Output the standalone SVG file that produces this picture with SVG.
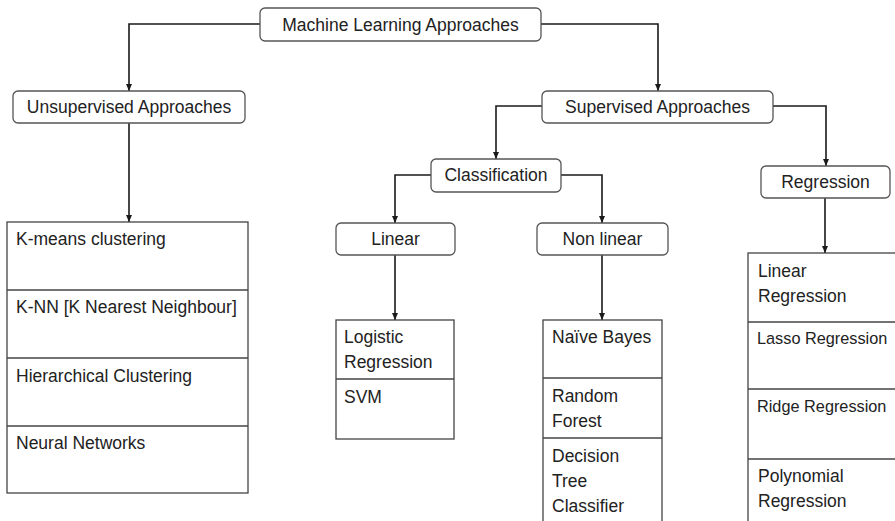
<svg xmlns="http://www.w3.org/2000/svg" width="895" height="521" viewBox="0 0 895 521">
<defs>
<marker id="arr" markerWidth="8" markerHeight="8" refX="7" refY="4" orient="auto" markerUnits="userSpaceOnUse">
<path d="M0,1 L7,4 L0,7 Z" fill="#1a1a1a"/>
</marker>
<style>
.node{fill:#fff;stroke:#555;stroke-width:1.3}
.box{fill:#fff;stroke:#444;stroke-width:1.3}
.div{stroke:#444;stroke-width:1.3}
.t{font-family:"Liberation Sans",Arial,sans-serif;font-size:17.5px;fill:#222}
.s{font-size:16.3px}
.c{text-anchor:middle}
.con{fill:none;stroke:#1a1a1a;stroke-width:1.6;marker-end:url(#arr)}
</style>
</defs>
<rect width="895" height="521" fill="#fff"/>
<g id="connectors">
<path class="con" d="M260,24 H129 V91"/>
<path class="con" d="M541,24 H658 V91"/>
<path class="con" d="M542,106 H496 V159"/>
<path class="con" d="M773,106 H826 V166"/>
<path class="con" d="M431,175 H395 V223"/>
<path class="con" d="M561,175 H602 V223"/>
<path class="con" d="M129,123 V222"/>
<path class="con" d="M395,255 V320"/>
<path class="con" d="M602,255 V320"/>
<path class="con" d="M825,198 V253"/>
</g>
<g id="ml"><rect class="node" x="260" y="8" width="281" height="33" rx="5"/><text class="t c" x="400.5" y="31">Machine Learning Approaches</text></g>
<g id="unsup"><rect class="node" x="13" y="91" width="232" height="32" rx="5"/><text class="t c" x="129" y="113">Unsupervised Approaches</text></g>
<g id="sup"><rect class="node" x="542" y="91" width="231" height="32" rx="5"/><text class="t c" x="657.5" y="113">Supervised Approaches</text></g>
<g id="class"><rect class="node" x="431" y="159" width="130" height="33" rx="5"/><text class="t c" x="496" y="181">Classification</text></g>
<g id="regr"><rect class="node" x="761" y="166" width="129" height="32" rx="5"/><text class="t c" x="825.5" y="188">Regression</text></g>
<g id="linear"><rect class="node" x="336" y="223" width="119" height="32" rx="5"/><text class="t c" x="395.5" y="245">Linear</text></g>
<g id="nonlinear"><rect class="node" x="537" y="223" width="131" height="32" rx="5"/><text class="t c" x="602.5" y="245">Non linear</text></g>
<g id="unsup-list">
<rect class="box" x="7" y="222" width="241" height="271"/>
<line class="div" x1="7" y1="290" x2="248" y2="290"/>
<line class="div" x1="7" y1="358" x2="248" y2="358"/>
<line class="div" x1="7" y1="426" x2="248" y2="426"/>
<text class="t" x="16" y="245">K-means clustering</text>
<text class="t" x="16" y="313">K-NN [K Nearest Neighbour]</text>
<text class="t" x="16" y="382">Hierarchical Clustering</text>
<text class="t" x="16" y="449">Neural Networks</text>
</g>
<g id="linear-list">
<rect class="box" x="336" y="320" width="118" height="119"/>
<line class="div" x1="336" y1="379" x2="454" y2="379"/>
<text class="t" x="344" y="343">Logistic</text>
<text class="t" x="344" y="368">Regression</text>
<text class="t" x="344" y="403">SVM</text>
</g>
<g id="nonlinear-list">
<rect class="box" x="543" y="320" width="119" height="215"/>
<line class="div" x1="543" y1="378" x2="662" y2="378"/>
<line class="div" x1="543" y1="438" x2="662" y2="438"/>
<text class="t" x="552" y="343">Naïve Bayes</text>
<text class="t" x="552" y="402">Random</text>
<text class="t" x="552" y="427">Forest</text>
<text class="t" x="552" y="462">Decision</text>
<text class="t" x="552" y="487">Tree</text>
<text class="t" x="552" y="512">Classifier</text>
</g>
<g id="regression-list">
<rect class="box" x="748" y="253" width="160" height="285"/>
<line class="div" x1="748" y1="322" x2="908" y2="322"/>
<line class="div" x1="748" y1="389" x2="908" y2="389"/>
<line class="div" x1="748" y1="459" x2="908" y2="459"/>
<text class="t" x="758" y="277">Linear</text>
<text class="t" x="758" y="302">Regression</text>
<text class="t s" x="757" y="344">Lasso Regression</text>
<text class="t s" x="757" y="412">Ridge Regression</text>
<text class="t" x="758" y="482">Polynomial</text>
<text class="t" x="758" y="507">Regression</text>
</g>
</svg>
